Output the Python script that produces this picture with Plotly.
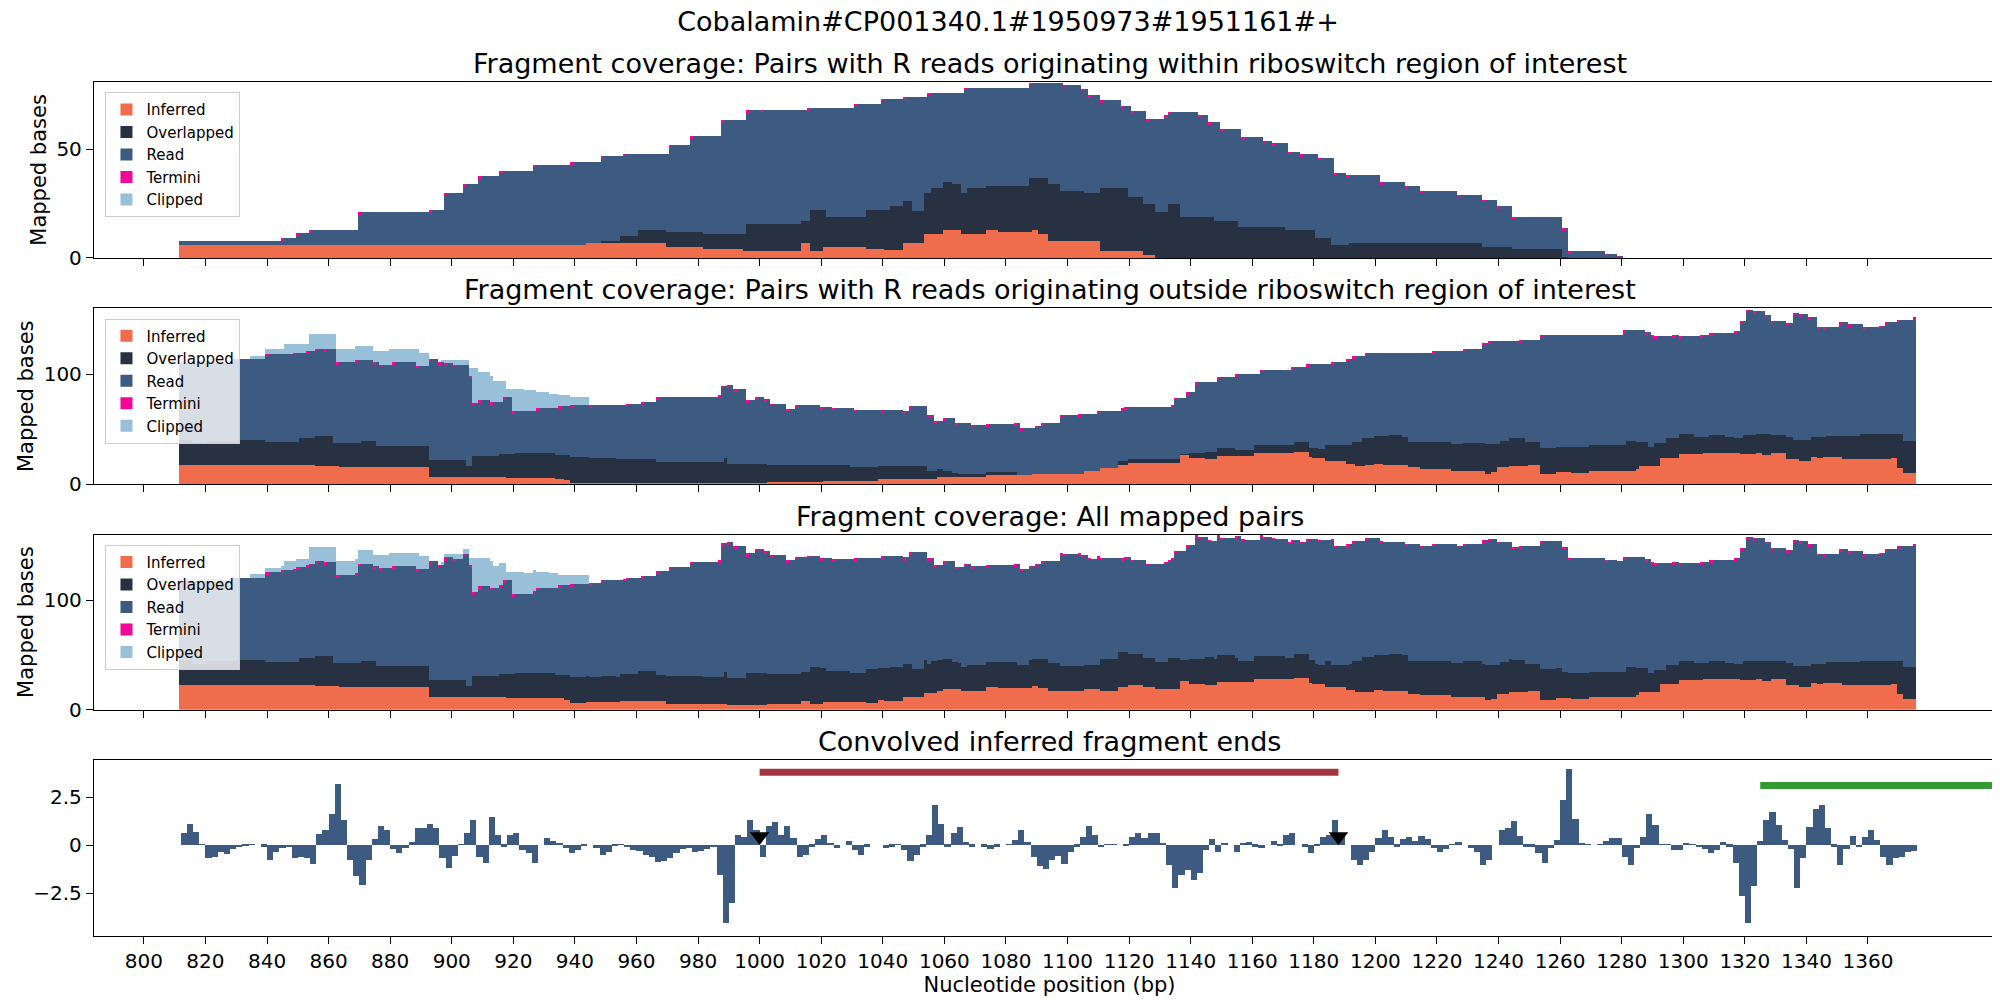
import numpy as np
import plotly.graph_objects as go

# ---- panel 1: pairs with R reads inside riboswitch (step breakpoints: start nt, value) ----
p1_total_pos = [812, 845, 850, 854, 870, 893, 898, 904, 909, 916, 927, 939, 949, 956, 971, 978, 988, 996, 1001,
                1016, 1031, 1040, 1047, 1055, 1067, 1088, 1099, 1105, 1107, 1111, 1118, 1121, 1126, 1132, 1133,
                1143, 1146, 1150, 1157, 1164, 1167, 1172, 1176, 1182, 1187, 1191, 1202, 1210, 1215, 1227, 1235,
                1240, 1245, 1261, 1263, 1275, 1279, 1281]
p1_total_val = [7.6, 9.2, 11.5, 12.8, 21, 21.9, 30, 34, 37.5, 40, 43, 44, 47, 48, 52, 56, 63.5, 68, 68.3,
                69, 71, 73.4, 74, 76, 78.3, 80.7, 79.8, 78, 75, 72.6, 70, 67.6, 64, 65.7, 67.3,
                65.7, 62.4, 59.3, 55.8, 53.8, 52.8, 49, 47.7, 46.2, 39, 38, 35, 32.9, 31, 29, 26.8,
                23.7, 19, 13.8, 3.2, 2, 0.8, 0]
p1_dark_pos = [812, 949, 955, 961, 970, 982, 996, 1014, 1017, 1022, 1035, 1043, 1047, 1050, 1054, 1056, 1060,
               1063, 1066, 1068, 1074, 1088, 1094, 1098, 1106, 1111, 1120, 1125, 1129, 1133, 1137, 1148, 1156,
               1171, 1181, 1186, 1192, 1235, 1245, 1261, 1263]
p1_dark_val = [0, 7.6, 10, 12.8, 12, 11, 15.6, 17, 21.9, 19, 22, 23.7, 26, 21.7, 30, 32.4, 35,
               34, 30, 32, 33, 37, 34, 31, 30, 32, 28, 25, 21, 24.8, 19, 17, 14.2,
               13, 9.2, 6.1, 6.9, 5, 4.1, 0.5, 0]
p1_inf_pos = [812, 944, 970, 982, 995, 1014, 1017, 1021, 1035, 1041, 1047, 1054, 1060, 1066, 1074, 1078,
              1089, 1091, 1094, 1111, 1125, 1129]
p1_inf_val = [5.8, 6.9, 5, 4.1, 3.4, 6.9, 3.4, 5, 4.1, 3.8, 6.9, 11, 12.8, 11.2, 12.8, 12,
              12.8, 11.2, 8, 3.4, 1.5, 0]
p1_clip_pos = [812]
p1_clip_val = [0]

# ---- panel 2: pairs with R reads outside riboswitch ----
p2_total_pos = [812, 829, 840, 849, 853, 856, 859, 863, 869, 875, 877, 881, 889, 893, 896, 898, 901, 906, 907,
                909, 913, 917, 920, 928, 935, 939, 945, 957, 962, 967, 987, 988, 990, 992, 996, 999, 1002,
                1004, 1009, 1012, 1020, 1024, 1031, 1040, 1047, 1049, 1055, 1057, 1060, 1064, 1069, 1074,
                1083, 1085, 1090, 1092, 1098, 1104, 1110, 1118, 1119, 1134, 1135, 1139, 1142, 1149, 1155,
                1163, 1173, 1178, 1186, 1191, 1193, 1197, 1219, 1229, 1235, 1237, 1247, 1254, 1281, 1288,
                1290, 1291, 1297, 1299, 1306, 1309, 1317, 1319, 1321, 1323, 1327, 1329, 1334, 1336, 1338,
                1341, 1344, 1346, 1351, 1354, 1359, 1364, 1366, 1370, 1375, 1376]
p2_total_val = [110, 113.5, 118.6, 119.5, 121, 123, 122.5, 111, 112.6, 110.5, 108.4, 110.5, 107.5, 114, 111,
                109.6, 108.4, 98.5, 73.9, 76, 74.5, 79, 66, 69, 71, 71.5, 72, 73, 74.5, 79, 81, 89.5, 90,
                86, 76, 79, 77, 73, 68.5, 71.5, 70, 69.4, 67.6, 67, 66, 70.6, 63, 57, 60, 55, 53.5, 54.4,
                55, 51, 53, 55.6, 62.5, 63.4, 66, 69, 69.7, 72, 78.4, 83.5, 92.5, 97.6, 100, 104, 106, 109,
                110.5, 114, 116.5, 119, 121, 123, 128.5, 130, 131, 135.4, 140, 138, 135, 134.5, 135, 134.5,
                135.4, 137, 139, 148, 158.5, 157, 154, 148, 146.5, 155.6, 154.6, 151.6, 143, 142.6, 147,
                145, 142.6, 144, 147, 149.5, 152, 0]
p2_dark_pos = [812, 816, 821, 830, 840, 851, 856, 862, 871, 876, 893, 905, 907, 916, 921, 934, 939, 945, 954,
               967, 989, 990, 1003, 1020, 1030, 1039, 1055, 1058, 1060, 1063, 1065, 1074, 1084, 1106, 1111,
               1117, 1120, 1137, 1140, 1145, 1149, 1155, 1161, 1174, 1179, 1182, 1184, 1191, 1193, 1196,
               1197, 1200, 1205, 1209, 1211, 1225, 1229, 1236, 1241, 1244, 1249, 1254, 1259, 1270, 1282,
               1285, 1289, 1291, 1295, 1299, 1304, 1309, 1314, 1317, 1320, 1324, 1329, 1334, 1336, 1342,
               1347, 1358, 1368, 1372, 1376]
p2_dark_val = [40, 36, 39, 40, 38.5, 41.4, 43.5, 37.5, 39, 34.5, 22, 16, 25, 27, 28, 26, 24.3, 23.4, 22.8,
               19.5, 23.4, 18.3, 17.4, 16.8, 15.3, 16, 12, 13.8, 11.4, 10, 9, 11, 8.4, 10.5, 13.8,
               21, 23, 27, 28, 29.4, 33, 31, 35, 38.4, 33, 32, 35.4, 35, 38.4, 41.4,
               42, 43.5, 44.4, 43, 38.4, 36, 37.5, 36, 39, 41.4, 38.4, 33, 34, 35, 39,
               38.4, 34, 37, 41.4, 45, 43, 44.4, 43, 42, 44.4, 45, 44.4, 43, 40, 42.3,
               43.5, 45, 45, 39, 0]
p2_inf_pos = [812, 856, 864, 876, 893, 918, 934, 937, 939, 955, 990, 1003, 1021, 1039, 1058, 1074, 1089, 1106,
              1111, 1117, 1120, 1137, 1140, 1145, 1149, 1161, 1174, 1179, 1180, 1184, 1191, 1194, 1197, 1200,
              1203, 1211, 1215, 1225, 1236, 1238, 1240, 1244, 1250, 1254, 1259, 1264, 1270, 1285, 1286, 1293,
              1299, 1307, 1319, 1324, 1326, 1329, 1334, 1338, 1342, 1344, 1346, 1352, 1368, 1370, 1372, 1376]
p2_inf_val = [17.4, 16.5, 15.6, 15, 6, 5.4, 4.8, 3.3, 0.6, 1, 0.9, 1.8, 2.4, 4.8, 6.6, 8.4, 9.3, 11.4,
              14.4, 17.4, 19.2, 26.4, 23.7, 22.8, 25.5, 28, 29.4, 24.3, 23.4, 21, 18.3, 16.5, 16.8, 18.3,
              17.4, 15, 14, 12, 9.3, 10.5, 15, 16.5, 17.4, 9.3, 11, 10.2, 12, 13.8, 16.5, 23.4,
              27.3, 28, 27.3, 28.5, 26.4, 28.5, 22.8, 21.3, 24.3, 23.4, 24.6, 22.8, 23.4, 14.4, 10.2, 0]
p2_clip_pos = [812, 829, 835, 840, 846, 854, 863, 869, 875, 880, 890, 893, 897, 906, 909, 913, 914, 918, 924,
               928, 932, 935, 939, 945]
p2_clip_val = [112, 0, 116.5, 122.5, 127, 136, 123, 125.5, 121, 123, 119.5, 0, 113, 105, 101.5, 98.5, 94, 86,
               85, 83.5, 82, 80.5, 79, 0]

# ---- panel 4: convolved inferred fragment ends, one value per 2 nt from 812 ----
conv_start = 812
conv_vals = [
    0.6, 1.1, 0.7, 0.05, -0.7, -0.6, -0.35, -0.45, -0.22, -0.12, -0.05, 0.03, 0, -0.1, -0.78, -0.35, -0.14,
    -0.12, -0.7, -0.6, -0.7, -1.0, 0.57, 0.8, 1.6, 3.2, 1.3, -0.78, -1.6, -2.1, -0.78, 0.3, 1.0, 0.8, -0.22,
    -0.4, -0.17, 0.17, 0.86, 0.9, 1.08, 0.9, -0.7, -1.2, -0.57, 0.05, 0.6, 1.3, -0.6, -0.95, 1.47, 0.52,
    -0.08, 0.5, 0.6, -0.26, -0.43, -0.95, 0, 0.35, 0.22, 0.09, -0.17, -0.43, -0.26, -0.03, 0, -0.17, -0.5,
    -0.35, -0.07, 0.03, -0.12, -0.26, -0.3, -0.5, -0.6, -0.9, -0.86, -0.7, -0.43, -0.22, -0.17, -0.35, -0.3,
    -0.2, -0.12, -1.55, -4.05,
    -3.0, 0.5, 0.4, 1.3, 0.8, -0.6, 1.0, 1.2, 0.5, 1.0, 0.35, -0.6, -0.5, -0.1, 0.3, 0.5, 0.1, -0.14, 0,
    0.22, -0.26, -0.5, -0.08, 0, 0, -0.14, -0.08, 0.03, -0.26, -0.86, -0.5, -0.08, 0.5, 2.07, 1.1, -0.08,
    0.6, 0.95, 0.17, -0.08, 0, -0.1, -0.2, -0.1, 0, 0.05, 0.26, 0.8, 0.17, -0.6, -1.1, -1.26, -0.78, -0.57,
    -1.0, -0.35, -0.08, 0.4, 1.0, 0.52, -0.12, 0.05, 0.05, 0, -0.05, 0.4, 0.6, 0.35, 0.65, 0.6, 0.09, -1.03,
    -2.25, -1.55, -1.3, -1.8, -1.47, -0.26, 0.3, -0.35, 0.12, 0, -0.35, 0.12, 0.17, -0.08, -0.17, 0, 0.22,
    -0.05, 0.52, 0.6, 0, -0.08, -0.43, -0.05, 0.4, 0.5, 1.3, 0.45, 0, -0.78, -1.03, -0.78,
    -0.35, 0.35, 0.78, 0.4, -0.1, 0.3, 0.4, 0.22, 0.47, 0.3, -0.17, -0.35, -0.22, 0.03, 0.15, 0, -0.14,
    -0.35, -1.03, -0.78, 0, 0.78, 0.86, 1.26, 0.47, -0.08, -0.1, -0.43, -0.95, -0.17, 0.26, 2.33, 3.97,
    1.38, 0.09, 0.03, 0, 0.05, 0.22, 0.35, 0.38, -0.6, -1.03, -0.17, 0.43, 1.64, 1.03, 0.05, 0.05, -0.26,
    -0.26, 0.12, 0.03, -0.12, -0.22, -0.43, -0.26, 0.15, -0.08, -0.95, -2.67, -4.05, -2.16, 0.22, 1.3,
    1.72, 1.03, 0.26, -0.22, -2.25, -0.7, 0.95, 1.9, 2.07, 0.86, -0.08, -1.03, -0.22, 0.47, -0.12, 0.43,
    0.78, 0.26, -0.6, -1.03, -0.7, -0.64, -0.35, -0.3]

riboswitch = [1000, 1188]       # red bar
riboswitch_y = 3.79
other_region = [1325, 1404.5]   # green bar
other_region_y = 3.1
triangle_x = [1000, 1188]
triangle_y = [0.45, 0.45]

x_range = [783.8, 1404.5]
tick_vals = list(range(800, 1361, 20))

C_INF, C_OVL, C_READ, C_TERM, C_CLIP = "#ef6c4d", "#283142", "#3d5a80", "#f0079a", "#98c1d9"

nt = np.arange(812, 1376)


def step(pos, val):
    idx = np.searchsorted(pos, nt, side="right") - 1
    return np.array(val, dtype=float)[idx]


def layers(tp, tv, dp, dv, ip, iv, cp, cv, term_h):
    total = step(tp, tv)
    inf = step(ip, iv)
    dark = np.maximum(step(dp, dv), inf)
    dark = np.minimum(dark, total)
    inf = np.minimum(inf, total)
    term = np.zeros_like(total)
    for p in tp[1:-1]:
        i = p - 812
        if 0 <= i < len(nt) and total[i] > 0:
            term[i] = min(term_h, total[i] - dark[i])
    clip = np.maximum(step(cp, cv) - total, 0)
    return dict(inf=inf, ovl=dark - inf, read=total - dark - term, term=term, clip=clip)


L1 = layers(p1_total_pos, p1_total_val, p1_dark_pos, p1_dark_val, p1_inf_pos, p1_inf_val,
            p1_clip_pos, p1_clip_val, 1.2)
L2 = layers(p2_total_pos, p2_total_val, p2_dark_pos, p2_dark_val, p2_inf_pos, p2_inf_val,
            p2_clip_pos, p2_clip_val, 2.5)
# all mapped pairs = sum of the two groups
L3 = {k: L1[k] + L2[k] for k in L1}

fig = go.Figure()
names = [("inf", "Inferred", C_INF), ("ovl", "Overlapped", C_OVL), ("read", "Read", C_READ),
         ("term", "Termini", C_TERM), ("clip", "Clipped", C_CLIP)]
for n, L in enumerate([L1, L2, L3], start=1):
    for key, label, col in names:
        fig.add_trace(go.Bar(x=nt, y=L[key], width=1, name=label, marker=dict(color=col, line_width=0),
                             xaxis="x" if n == 1 else f"x{n}", yaxis="y" if n == 1 else f"y{n}",
                             legend="legend" if n == 1 else f"legend{n}", hoverinfo="skip"))

conv_x = conv_start + 2 * np.arange(len(conv_vals)) + 1
fig.add_trace(go.Bar(x=conv_x, y=conv_vals, width=2, marker=dict(color=C_READ, line_width=0),
                     xaxis="x4", yaxis="y4", showlegend=False))
fig.add_trace(go.Scatter(x=riboswitch, y=[riboswitch_y] * 2, mode="lines", line=dict(color="#a4343f", width=7),
                         xaxis="x4", yaxis="y4", showlegend=False))
fig.add_trace(go.Scatter(x=other_region, y=[other_region_y] * 2, mode="lines",
                         line=dict(color="#339933", width=7), xaxis="x4", yaxis="y4", showlegend=False))
fig.add_trace(go.Scatter(x=triangle_x, y=triangle_y, mode="markers",
                         marker=dict(symbol="triangle-down", size=17, color="black"),
                         xaxis="x4", yaxis="y4", showlegend=False))

domains = [[0.794, 1.0], [0.529, 0.735], [0.265, 0.470], [0.0, 0.206]]
y_ranges = [[0, 81], [0, 160], [0, 160], [-4.74, 4.43]]
y_ticks = [[0, 50], [0, 100], [0, 100], [-2.5, 0, 2.5]]
titles = ["Fragment coverage: Pairs with R reads originating within riboswitch region of interest",
          "Fragment coverage: Pairs with R reads originating outside riboswitch region of interest",
          "Fragment coverage: All mapped pairs",
          "Convolved inferred fragment ends"]

axis_common = dict(showline=True, linecolor="black", linewidth=1.3, mirror=True, ticks="outside",
                   ticklen=7, tickcolor="black", tickfont=dict(size=20, color="black"), showgrid=False,
                   zeroline=False)
lay = dict(barmode="relative", bargap=0, width=2000, height=1000, plot_bgcolor="white", paper_bgcolor="white",
           font=dict(family="DejaVu Sans", color="black"), margin=dict(l=86, r=3, t=74, b=72),
           title=dict(text="Cobalamin#CP001340.1#1950973#1951161#+", x=0.5, xanchor="center", y=0.996,
                      yanchor="top", font=dict(size=27)))
annotations = []
for i in range(4):
    s = "" if i == 0 else str(i + 1)
    lay["xaxis" + s] = dict(axis_common, domain=[0, 1], range=x_range, tickvals=tick_vals,
                            showticklabels=(i == 3), anchor="y" + s)
    lay["yaxis" + s] = dict(axis_common, domain=domains[i], range=y_ranges[i], tickvals=y_ticks[i],
                            anchor="x" + s, title=dict(text="Mapped bases" if i < 3 else "",
                                                       font=dict(size=21), standoff=4))
    if i < 3:
        lay["legend" + s] = dict(x=0.006, y=domains[i][1] - 0.012, xanchor="left", yanchor="top",
                                 bgcolor="rgba(255,255,255,0.8)", bordercolor="#cccccc", borderwidth=1,
                                 font=dict(size=15), tracegroupgap=0, itemwidth=30)
    annotations.append(dict(text=titles[i], x=0.5, xref="paper", y=domains[i][1], yref="paper",
                            yanchor="bottom", yshift=1, showarrow=False, font=dict(size=27)))
lay["xaxis4"]["title"] = dict(text="Nucleotide position (bp)", font=dict(size=21), standoff=4)
lay["annotations"] = annotations
fig.update_layout(**lay)

fig.write_html("out.html")
